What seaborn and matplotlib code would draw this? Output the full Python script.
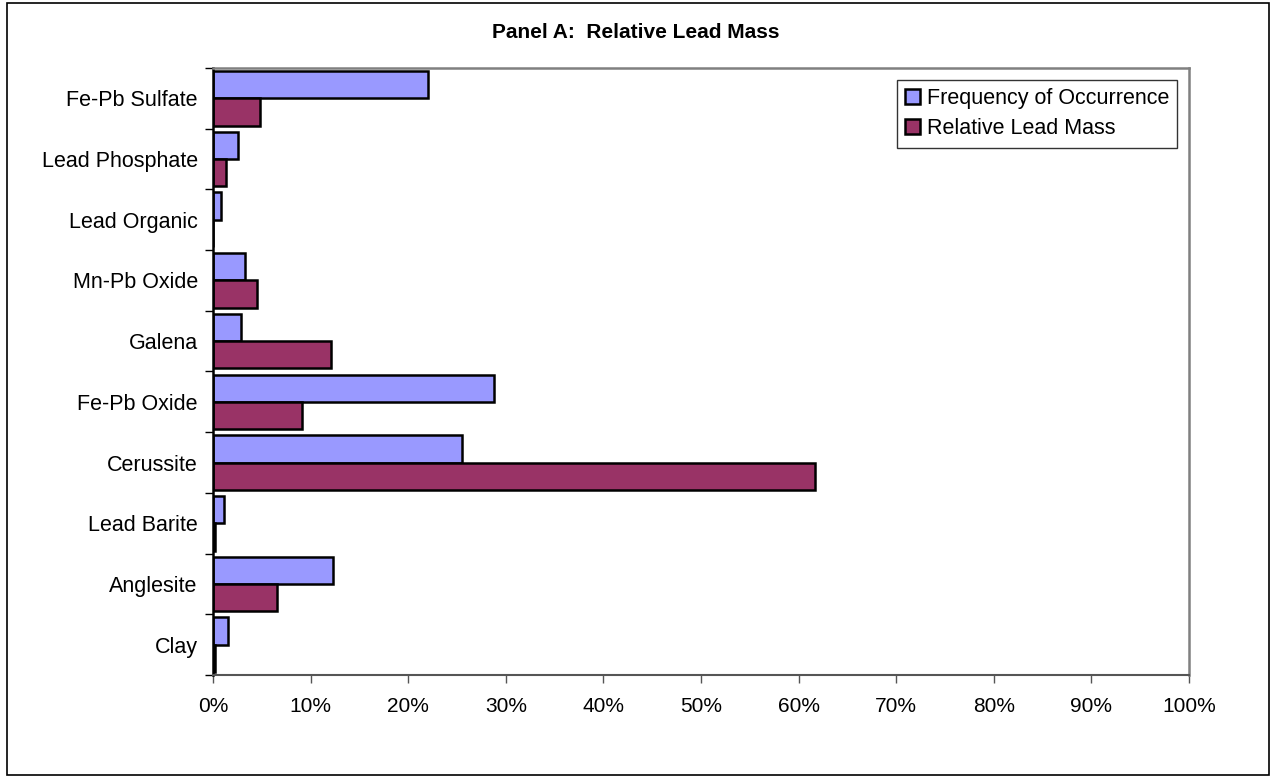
import pandas as pd
import seaborn as sns
import matplotlib.pyplot as plt
import matplotlib.ticker as mtick
from matplotlib.patches import Rectangle

categories = ["Fe-Pb Sulfate", "Lead Phosphate", "Lead Organic", "Mn-Pb Oxide", "Galena",
              "Fe-Pb Oxide", "Cerussite", "Lead Barite", "Anglesite", "Clay"]
freq = [22.0, 2.6, 0.8, 3.3, 2.9, 28.8, 25.5, 1.1, 12.3, 1.5]
mass = [4.8, 1.3, 0.0, 4.5, 12.1, 9.1, 61.7, 0.2, 6.6, 0.2]
series = ["Frequency of Occurrence", "Relative Lead Mass"]
colors = ["#9999FF", "#993366"]

df = pd.DataFrame({
    "cat": categories * 2,
    "val": freq + mass,
    "series": [series[0]] * len(categories) + [series[1]] * len(categories),
})

sns.set_style("white")
plt.rcParams["font.family"] = ["Liberation Sans", "DejaVu Sans"]
plt.rcParams["text.color"] = "black"
plt.rcParams["xtick.labelcolor"] = "black"
plt.rcParams["ytick.labelcolor"] = "black"

fig = plt.figure(figsize=(12.72, 7.77), dpi=100)
ax = fig.add_axes([0.1675, 0.1313, 0.7673, 0.7812])

sns.barplot(data=df, x="val", y="cat", hue="series", orient="h", palette=colors,
            order=categories, hue_order=series, width=0.9, ax=ax,
            edgecolor="black", linewidth=1.8, saturation=1, errorbar=None)

ax.set_xlim(0, 100)
ax.set_ylim(len(categories) - 0.5, -0.5)
ax.set_xticks(range(0, 101, 10))
ax.xaxis.set_major_formatter(mtick.FuncFormatter(lambda v, p: f"{v:.0f}%"))
ax.set_yticks(range(len(categories)))
ax.set_yticklabels(categories)
ax.set_yticks([i - 0.5 for i in range(len(categories) + 1)], minor=True)
ax.tick_params(axis="y", which="major", length=0, pad=11, labelsize=15.5)
ax.tick_params(axis="y", which="minor", left=True, length=6, width=1, color="black")
ax.tick_params(axis="x", bottom=True, length=6, width=1, color="#555555", labelsize=15, pad=10)
ax.set_xlabel("")
ax.set_ylabel("")

for side in ["top", "right"]:
    ax.spines[side].set_color("#808080")
    ax.spines[side].set_linewidth(1.8)
ax.spines["bottom"].set_color("#555555")
ax.spines["bottom"].set_linewidth(1.5)
ax.spines["left"].set_color("black")
ax.spines["left"].set_linewidth(1.8)

leg = ax.legend(loc="upper right", bbox_to_anchor=(0.9877, 0.980), fontsize=15.5,
                frameon=True, fancybox=False, edgecolor="black", handlelength=0.7,
                handleheight=0.7, handletextpad=0.3, borderpad=0.38, labelspacing=0.42,
                borderaxespad=0)
leg.get_frame().set_linewidth(1)

fig.text(0.5, 0.958, "Panel A:  Relative Lead Mass", ha="center", va="center",
         fontsize=15, fontweight="bold")

fig.patches.append(Rectangle((0.0055, 0.003), 0.992, 0.993, transform=fig.transFigure,
                             fill=False, edgecolor="black", linewidth=1.2))

fig.savefig("out.png", dpi=100)
